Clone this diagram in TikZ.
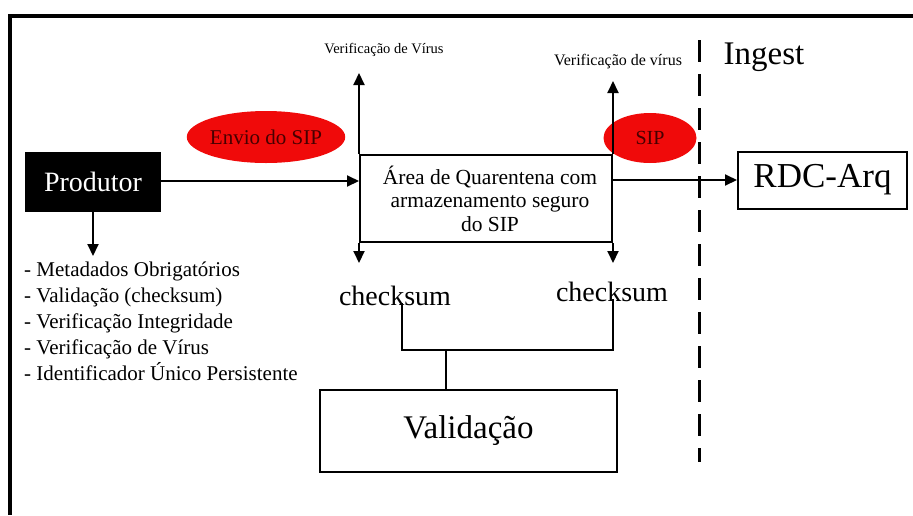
\documentclass[tikz,border=0pt]{standalone}
\usepackage{fontspec}
\setmainfont{Liberation Serif}
\usetikzlibrary{arrows.meta,shapes.geometric}
\definecolor{sipred}{RGB}{240,10,10}
\definecolor{siptext}{RGB}{70,0,0}
\begin{document}
\begin{tikzpicture}[x=1pt,y=-1pt,
    box/.style={draw,line width=2pt,inner sep=0pt},
    blob/.style={ellipse,fill=sipred,inner sep=0pt,text=siptext},
    arrow/.style={line width=2pt,-{Triangle[length=12pt,width=11pt]}},
    bracket/.style={line width=1.5pt}]
        \useasboundingbox (0,0) rectangle (913,515);
        \draw[line width=4pt] (8,16) -- (913,16);
        \draw[line width=4pt] (10,14) -- (10,515);

        % ellipses first, lines go over them
        \node[blob,minimum width=135pt,minimum height=52pt,font=\fontsize{21}{24}\selectfont] (envio) at (266,137) {Envio do SIP};
        \node[blob,minimum width=93pt,minimum height=50pt,font=\fontsize{20}{24}\selectfont] (sip) at (650,138) {SIP};

        \node[box,fill=black,text=white,minimum width=134pt,minimum height=58pt,font=\fontsize{28}{30}\selectfont] (prod) at (93,182) {Produtor};
        \node[anchor=north west,align=left,inner sep=0pt,font=\fontsize{21}{26}\selectfont] (lst) at (24,262)
            {- Metadados Obrigatórios\\- Validação (checksum)\\- Verificação Integridade\\- Verificação de Vírus\\- Identificador Único Persistente};

        \node[box,minimum width=252pt,minimum height=87pt,align=center,font=\fontsize{21.5}{23.5}\selectfont] (quar) at (486,198.5)
            {\hspace*{8pt}Área de Quarentena com\\\hspace*{8pt}armazenamento seguro\\\hspace*{8pt}do SIP};

        \node[box,minimum width=169pt,minimum height=57pt,font=\fontsize{35}{38}\selectfont] (rdc) at (822.5,180) {RDC-Arq};
        \node[font=\fontsize{33}{36}\selectfont] (ingest) at (764,57) {Ingest};

        \node[font=\fontsize{14.5}{16}\selectfont] (virl) at (384,50) {Verificação de Vírus};
        \node[font=\fontsize{16}{18}\selectfont] (virr) at (618,62) {Verificação de vírus};

        \node[font=\fontsize{28}{30}\selectfont] (ckl) at (395,296) {checksum};
        \node[font=\fontsize{28}{30}\selectfont] (ckr) at (612,292) {checksum};

        \node[box,line width=1.5pt,minimum width=297pt,minimum height=82pt,font=\fontsize{33}{36}\selectfont] (val) at (468.5,431) {Validação};

        \coordinate (vl) at (quar.north west |- 0,73);
        \coordinate (vr) at (quar.north east |- 0,81);
        \coordinate (dl) at (quar.south west |- 0,263);
        \coordinate (dr) at (quar.south east |- 0,263);

        \draw[arrow] (prod.east |- 0,181) -- (quar.west |- 0,181);
        \draw[arrow] (prod.south) -- ([yshift=6pt]prod.south |- lst.north);
        \draw[arrow] (quar.north west) -- (vl);
        \draw[arrow] (quar.north east) -- (vr);
        \draw[arrow] (quar.south west) -- (dl);
        \draw[arrow] (quar.south east) -- (dr);
        \draw[arrow] (quar.east |- rdc.west) -- (rdc.west);

        \draw[line width=3pt,dash pattern=on 22pt off 12pt] (699,40) -- (699,462);

        \coordinate (jl) at (402,350);
        \coordinate (jr) at (613,350);
        \coordinate (jm) at (446,350);
        \draw[bracket] ([yshift=6pt]ckl.south -| jl) -- (jl) -- (jr) -- ([yshift=6pt]ckr.south -| jr);
        \draw[bracket] (jm) -- (jm |- val.north);
\end{tikzpicture}
\end{document}
